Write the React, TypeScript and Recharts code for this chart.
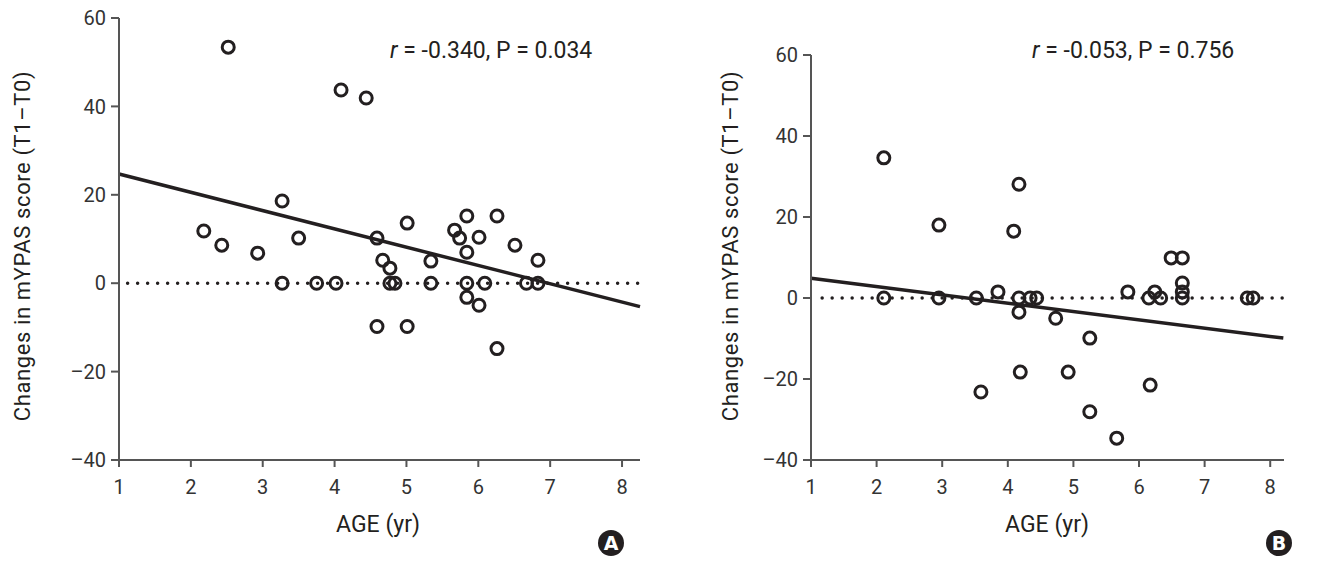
import { ScatterChart, Scatter, XAxis, YAxis, ReferenceLine } from "recharts";

// Panel A: age (yr) vs change in mYPAS score
const ageA = [2.52, 2.18, 2.43, 2.93, 3.27, 3.27, 3.5, 3.75, 4.02, 4.09, 4.44, 4.59, 4.59, 4.67, 4.77, 4.77, 4.84, 5.01, 5.01, 5.34, 5.34, 5.67, 5.74, 5.84, 5.84, 5.84, 5.84, 6.01, 6.01, 6.09, 6.26, 6.26, 6.51, 6.67, 6.83, 6.83];
const changeA = [53.4, 11.8, 8.6, 6.8, 18.6, 0, 10.2, 0, 0, 43.7, 41.9, 10.2, -9.8, 5.2, 3.4, 0, 0, 13.6, -9.8, 5, 0, 12, 10.2, 15.2, 7, 0, -3.2, 10.4, -5, 0, 15.2, -14.8, 8.6, 0, 5.2, 0];
const fitA = [{ age: 1, change: 24.7 }, { age: 8.25, change: -5.3 }];

// Panel B
const ageB = [2.11, 2.11, 2.95, 2.95, 3.52, 3.59, 3.85, 4.09, 4.17, 4.17, 4.17, 4.19, 4.34, 4.44, 4.73, 4.92, 5.25, 5.25, 5.66, 5.83, 6.15, 6.17, 6.24, 6.33, 6.49, 6.66, 6.66, 6.66, 6.66, 7.65, 7.74];
const changeB = [34.6, 0, 18, 0, 0, -23.2, 1.5, 16.5, 28.1, 0, -3.5, -18.3, 0, 0, -5, -18.3, -9.9, -28.1, -34.6, 1.5, 0, -21.5, 1.5, 0, 9.9, 9.9, 3.7, 1.5, 0, 0, 0];
const fitB = [{ age: 1, change: 4.9 }, { age: 8.2, change: -9.9 }];

const xTicks = [1, 2, 3, 4, 5, 6, 7, 8];
const yTicks = [-40, -20, 0, 20, 40, 60];

const INK = "#231f20";
const AXIS = "#555";
const FONT = "Roboto, 'Noto Sans', sans-serif";

const toRows = (xs: number[], ys: number[]) => xs.map((age, i) => ({ age, change: ys[i] }));

const Ring = (props: any) => {
  const { cx, cy } = props;
  if (cx == null || cy == null) return null;
  return <circle cx={cx} cy={cy} r={6} fill="none" stroke={INK} strokeWidth={3} />;
};

const fmt = (v: number) => (v < 0 ? `–${Math.abs(v)}` : `${v}`);

type PanelProps = {
  width: number;
  top: number;
  yAxisWidth: number;
  right: number;
  xMax: number;
  zeroStart: number;
  data: { age: number; change: number }[];
  fit: { age: number; change: number }[];
};

function Panel({ width, top, yAxisWidth, right, xMax, zeroStart, data, fit }: PanelProps) {
  const tick = { fontSize: 20, fill: "#333", fontFamily: FONT };
  return (
    <ScatterChart width={width} height={577} margin={{ top, right, bottom: 0, left: 0 }}>
      <XAxis
        type="number"
        dataKey="age"
        domain={[1, xMax]}
        ticks={xTicks}
        allowDataOverflow
        height={117}
        stroke={AXIS}
        strokeWidth={2}
        tickSize={7}
        tickMargin={13}
        tick={tick}
      />
      <YAxis
        type="number"
        dataKey="change"
        domain={[-40, 60]}
        ticks={yTicks}
        allowDataOverflow
        width={yAxisWidth}
        stroke={AXIS}
        strokeWidth={2}
        tickSize={8}
        tickMargin={5}
        tickFormatter={fmt}
        tick={tick}
      />
      <ReferenceLine
        segment={[{ x: zeroStart, y: 0 }, { x: xMax, y: 0 }]}
        stroke={INK}
        strokeWidth={3.5}
        strokeDasharray="0 10"
        strokeLinecap="round"
      />
      <ReferenceLine
        segment={[{ x: fit[0].age, y: fit[0].change }, { x: fit[1].age, y: fit[1].change }]}
        stroke={INK}
        strokeWidth={3.5}
      />
      <Scatter data={data} shape={Ring} isAnimationActive={false} />
    </ScatterChart>
  );
}

const abs = (left: number, top: number, extra: any = {}): any => ({
  position: "absolute",
  left,
  top,
  fontFamily: FONT,
  color: INK,
  whiteSpace: "nowrap",
  ...extra,
});

function Stat({ left, r, p }: { left: number; r: string; p: string }) {
  return (
    <div style={abs(left, 37, { fontSize: 23 })}>
      <i>r</i> = {r}, P = {p}
    </div>
  );
}

function YTitle({ x, y }: { x: number; y: number }) {
  return (
    <div style={abs(x, y, { fontSize: 22, letterSpacing: 0.6, transform: "translate(-50%, -50%) rotate(-90deg)" })}>
      Changes in mYPAS score (T1–T0)
    </div>
  );
}

function XTitle({ x }: { x: number }) {
  return <div style={abs(x, 524, { fontSize: 23, transform: "translate(-50%, -50%)" })}>AGE (yr)</div>;
}

function Badge({ x, letter }: { x: number; letter: string }) {
  return (
    <div
      style={abs(x - 13, 530, {
        width: 26,
        height: 26,
        borderRadius: 13,
        background: "#231f20",
        color: "#fff",
        fontWeight: 700,
        fontSize: 19,
        lineHeight: "26px",
        textAlign: "center",
        fontFamily: "'DejaVu Sans', sans-serif",
      })}
    >
      {letter}
    </div>
  );
}

export default function App() {
  return (
    <div style={{ position: "absolute", left: 0, top: 0, width: 1321, height: 577, background: "#fff" }}>
      <div style={{ position: "absolute", left: 0, top: 0 }}>
        <Panel width={660} top={18} yAxisWidth={119} right={20} xMax={8.25} zeroStart={1.12} data={toRows(ageA, changeA)} fit={fitA} />
      </div>
      <div style={{ position: "absolute", left: 660, top: 0 }}>
        <Panel width={661} top={55} yAxisWidth={151} right={37} xMax={8.21} zeroStart={1.17} data={toRows(ageB, changeB)} fit={fitB} />
      </div>
      <Stat left={390} r="-0.340" p="0.034" />
      <Stat left={1032} r="-0.053" p="0.756" />
      <YTitle x={22} y={246} />
      <YTitle x={730} y={246} />
      <XTitle x={378} />
      <XTitle x={1047} />
      <Badge x={611} letter="A" />
      <Badge x={1279} letter="B" />
    </div>
  );
}
